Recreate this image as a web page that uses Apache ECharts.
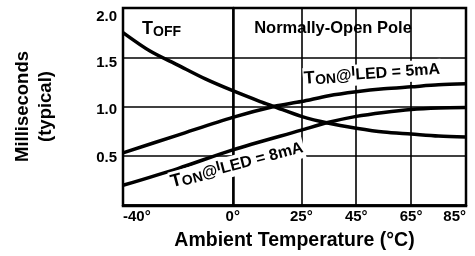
<!DOCTYPE html>
<html>
<head>
<meta charset="utf-8">
<script src="https://cdn.jsdelivr.net/npm/echarts@6/dist/echarts.min.js"></script>
<style>
  html, body { margin: 0; padding: 0; background: #fff; }
  #chart { width: 475px; height: 256px; }
</style>
</head>
<body>
<div id="chart"></div>
<script>
// x tick labels and grid positions (deg C)
const xTicks = [-40, 0, 25, 45, 65, 85];
const yTicks = [0.5, 1.0, 1.5, 2.0];

// T_OFF curve
const toffTemp = [-40, -30, -20, -10, 0, 10, 15, 25, 35, 45, 55, 65, 75, 85];
const toffVal  = [1.75, 1.56, 1.42, 1.28, 1.16, 1.05, 1.0, 0.90, 0.83, 0.78, 0.74, 0.72, 0.70, 0.69];

// T_ON @ I_LED = 5mA
const ton5Temp = [-40, -20, 0, 15, 25, 35, 45, 55, 65, 75, 85];
const ton5Val  = [0.53, 0.71, 0.89, 1.0, 1.05, 1.11, 1.15, 1.18, 1.20, 1.22, 1.23];

// T_ON @ I_LED = 8mA
const ton8Temp = [-40, -20, 0, 25, 35, 45, 55, 65, 75, 85];
const ton8Val  = [0.20, 0.37, 0.56, 0.76, 0.84, 0.90, 0.94, 0.97, 0.985, 0.99];

const pair = (xs, ys) => xs.map((x, i) => [x, ys[i]]);

const font = 'Liberation Sans, Arial, Helvetica, sans-serif';

const curve = (name, data) => ({
  name: name,
  type: 'line',
  data: data,
  smooth: 0.3,
  symbol: 'none',
  lineStyle: { color: '#000', width: 3.5 },
  z: 3
});

// rich text pieces for the T_ON annotations
const onRich = {
  t:  { fontSize: 18, fontWeight: 'bold', fontFamily: font, color: '#000' },
  s:  { fontSize: 14, fontWeight: 'bold', fontFamily: font, color: '#000', padding: [5, 0, 0, 0] },
  at: { fontSize: 16, fontWeight: 'bold', fontFamily: font, color: '#000' },
  i:  { fontSize: 14, fontWeight: 'bold', fontFamily: font, color: '#000', padding: [0, 0, 7, 0] },
  n:  { fontSize: 16, fontWeight: 'bold', fontFamily: font, color: '#000' }
};

// y labels sit a little below their grid lines in the original
const yLab = { fontSize: 15, fontWeight: 'bold', fontFamily: font, color: '#000' };
const yRich = {
  a: Object.assign({ padding: [18, 0, 0, 0] }, yLab),
  b: Object.assign({ padding: [12, 0, 0, 0] }, yLab),
  c: Object.assign({ padding: [6, 0, 0, 0] }, yLab),
  d: Object.assign({ padding: [4, 0, 0, 0] }, yLab)
};
const yKey = { '2.0': 'a', '1.5': 'b', '1.0': 'c', '0.5': 'd' };

const chart = echarts.init(document.getElementById('chart'));

chart.setOption({
  animation: false,
  backgroundColor: '#fff',
  grid: { left: 123, right: 9, top: 8, bottom: 50 },
  xAxis: {
    type: 'value',
    min: -40,
    max: 85,
    name: 'Ambient Temperature (°C)',
    nameLocation: 'middle',
    nameGap: 26,
    nameTextStyle: { fontSize: 19.5, fontWeight: 'bold', fontFamily: font, color: '#000' },
    axisLine: { show: true, lineStyle: { color: '#000', width: 2.5 } },
    axisTick: { show: false, customValues: xTicks },
    axisLabel: {
      customValues: xTicks,
      formatter: v => v + '°',
      fontSize: 15, fontWeight: 'bold', fontFamily: font, color: '#000',
      margin: 4,
      alignMinLabel: 'left',
      alignMaxLabel: 'right'
    },
    splitLine: { show: true, lineStyle: { color: '#000', width: 1.6 } }
  },
  yAxis: {
    type: 'value',
    min: 0,
    max: 2,
    interval: 0.5,
    name: 'Milliseconds\n(typical)',
    nameLocation: 'middle',
    nameRotate: 90,
    nameGap: 66,
    nameTextStyle: { fontSize: 18.5, fontWeight: 'bold', fontFamily: font, color: '#000', lineHeight: 23 },
    axisLine: { show: true, lineStyle: { color: '#000', width: 2.5 } },
    axisTick: { show: false },
    axisLabel: {
      formatter: v => {
        if (v === 0) return '';
        const s = v.toFixed(1);
        return '{' + yKey[s] + '|' + s + '}';
      },
      rich: yRich,
      margin: 6
    },
    splitLine: { show: true, lineStyle: { color: '#000', width: 1.6 } }
  },
  series: [
    curve('TOFF', pair(toffTemp, toffVal)),
    curve('TON 5mA', pair(ton5Temp, ton5Val)),
    curve('TON 8mA', pair(ton8Temp, ton8Val))
  ],
  graphic: [
    // frame on top and right
    {
      type: 'rect', z: 10,
      shape: { x: 123, y: 8, width: 343, height: 198 },
      style: { fill: 'none', stroke: '#000', lineWidth: 2.5 }
    },
    {
      type: 'text', z: 20, x: 142, y: 39,
      style: {
        text: '{t|T}{s|OFF}',
        verticalAlign: 'bottom',
        rich: onRich
      }
    },
    {
      type: 'text', z: 20, x: 333, y: 28,
      style: {
        text: 'Normally-Open Pole',
        align: 'center', verticalAlign: 'middle',
        fontSize: 16.5, fontWeight: 'bold', fontFamily: font, fill: '#000'
      }
    },
    {
      type: 'text', z: 20, x: 372, y: 74, rotation: 0.07,
      style: {
        text: '{t|T}{s|ON}{at|@}{i|I}{n|LED = 5mA}',
        align: 'center', verticalAlign: 'middle',
        backgroundColor: '#fff', padding: [0, 1],
        rich: onRich
      }
    },
    {
      type: 'text', z: 20, x: 237, y: 165, rotation: 0.26,
      style: {
        text: '{t|T}{s|ON}{at|@}{i|I}{n|LED = 8mA}',
        align: 'center', verticalAlign: 'middle',
        backgroundColor: '#fff', padding: [0, 1],
        rich: onRich
      }
    }
  ]
});
</script>
</body>
</html>
